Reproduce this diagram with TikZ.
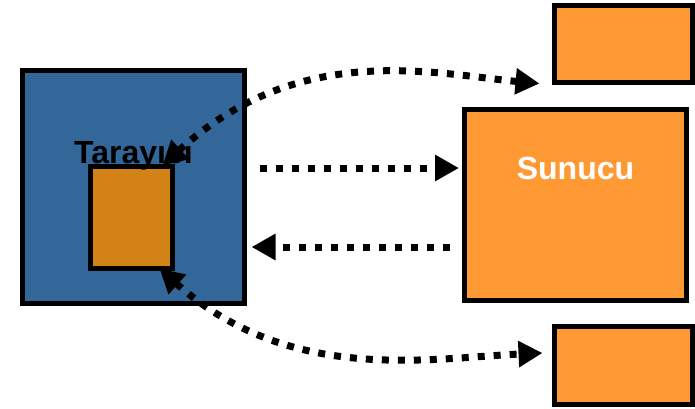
\documentclass[tikz,border=0pt]{standalone}
\usepackage{fontspec}
\setmainfont{Liberation Sans}
\usetikzlibrary{positioning}
\usetikzlibrary{arrows.meta}
\definecolor{tarblue}{HTML}{336699}
\definecolor{pageorange}{HTML}{D38216}
\definecolor{srvorange}{HTML}{FF9933}
\tikzset{
    box/.style = {rectangle, line width=5pt, draw=black, inner sep=0pt},
    boxb/.style = {box, fill=tarblue},
    boxp/.style = {box, fill=pageorange},
    boxs/.style = {box, fill=srvorange},
    title/.style = {font=\fontsize{32}{38}\selectfont\bfseries, inner sep=0pt},
    edged/.style = {-{Triangle[length=24pt,width=25pt]}, line width=7pt, dash pattern=on 7pt off 9pt},
    edgedd/.style = {{Triangle[length=24pt,width=25pt]}-{Triangle[length=24pt,width=25pt]}, line width=7pt, dash pattern=on 7pt off 9pt}
}
\begin{document}
\begin{tikzpicture}[x=1pt,y=-1pt]
\useasboundingbox (0,0) rectangle (695,408);
%
\node[boxb, minimum width=222pt, minimum height=233pt] at (133.5,187) (browser) {};
\node[boxp, minimum width=82pt, minimum height=102pt] at (131,217) (page) {};
\node[title, anchor=base west] at (74,163) (browsertxt) {Tarayıcı};
\node[boxs, minimum width=222pt, minimum height=191pt] at (575.5,205) (server) {};
\node[title, anchor=base, white] at (575.5,179) (servertxt) {Sunucu};
\node[boxs, minimum width=138pt, minimum height=77pt] at (623.5,44) (top) {};
\node[boxs, minimum width=138pt, minimum height=78pt] at (623.5,365.5) (bottom) {};
%
\draw[edged] ([xshift=12.5pt,yshift=19pt]browser.east) -- ([xshift=-3pt,yshift=37pt]server.west);
\draw[edged] ([xshift=-12pt,yshift=-42pt]server.west) -- ([xshift=4.5pt,yshift=-60pt]browser.east);
\draw[edgedd] ([xshift=-12pt,yshift=-2pt]page.north east) .. controls (300,40) and (435,74) .. ([xshift=-12.5pt,yshift=1.5pt]top.south west);
\draw[edgedd] ([xshift=-15pt,yshift=2pt]page.south east) .. controls (290,385) and (430,358) .. ([xshift=-9.5pt,yshift=12.5pt]bottom.west);
\end{tikzpicture}
\end{document}
